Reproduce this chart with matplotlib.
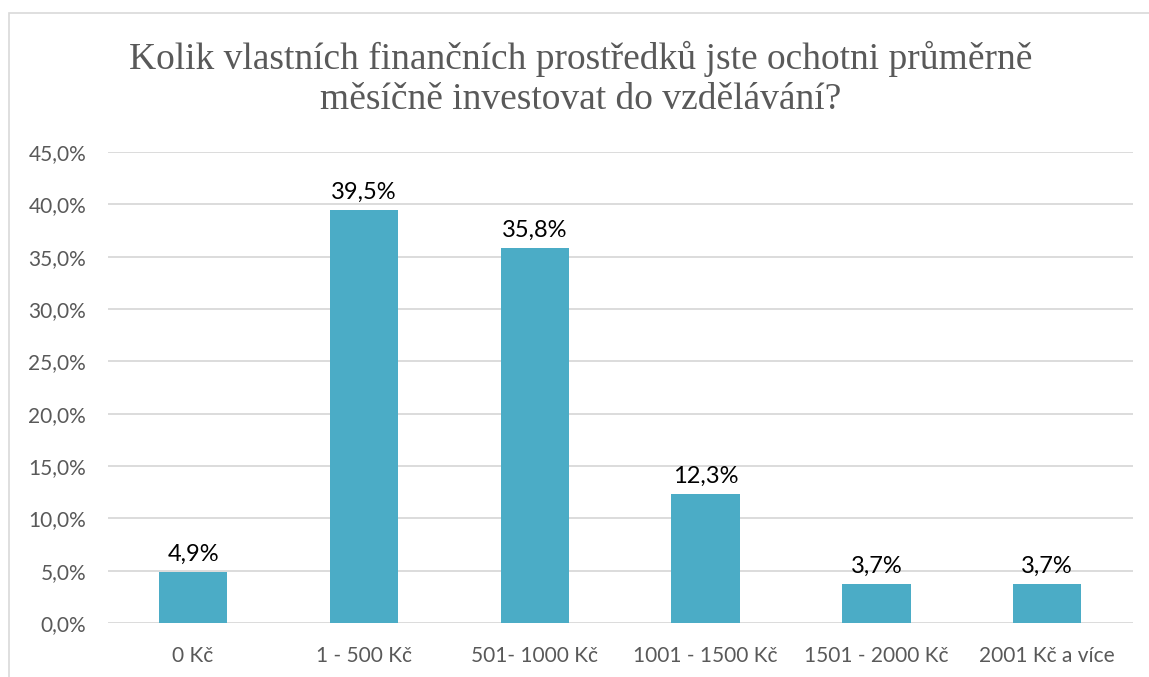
import matplotlib.pyplot as plt
from matplotlib.patches import Rectangle
from matplotlib.ticker import FuncFormatter

kategorie = ['0 Kč', '1 - 500 Kč', '501- 1000 Kč', '1001 - 1500 Kč', '1501 - 2000 Kč', '2001 Kč a více']
hodnoty = [4.9, 39.5, 35.8, 12.3, 3.7, 3.7]
titulek = 'Kolik vlastních finančních prostředků jste ochotni průměrně\nměsíčně investovat do vzdělávání?'

sedy = '#595959'
mrizka = '#D9D9D9'
barva = '#4BACC6'

plt.rcParams['font.family'] = ['Lato', 'DejaVu Sans']

fig = plt.figure(figsize=(11.49, 6.77), dpi=100)
ax = fig.add_axes([0.0937, 0.0798, 0.892, 0.6957])

# ramecek grafu (presahuje vpravo a dole)
fig.patches.append(Rectangle((8.5 / 1149, -0.1), 1.2, (677 - 12.5) / 677 + 0.1,
                             transform=fig.transFigure, fill=False,
                             edgecolor=mrizka, linewidth=1.2))

x = range(len(kategorie))
sloupce = ax.bar(x, hodnoty, width=0.4, color=barva, zorder=3)
for s, h in zip(sloupce, hodnoty):
    ax.annotate(f'{h:.1f}%'.replace('.', ','), (s.get_x() + s.get_width() / 2, h),
                xytext=(0, 5), textcoords='offset points', ha='center', va='bottom',
                fontsize=17, color='black')

ax.set_xlim(-0.5, len(kategorie) - 0.5)
ax.set_ylim(0, 45)
ax.set_yticks(range(0, 50, 5))
ax.yaxis.set_major_formatter(FuncFormatter(lambda v, p: f'{v:.1f}%'.replace('.', ',')))
ax.set_xticks(list(x))
ax.set_xticklabels(kategorie)
ax.tick_params(axis='both', length=0, labelsize=15, labelcolor=sedy)
ax.tick_params(axis='x', pad=16.5)
ax.tick_params(axis='y', pad=15.5)
ax.grid(axis='y', color=mrizka, linewidth=1.3, zorder=0)
for sp in ax.spines.values():
    sp.set_visible(False)

fig.text(581 / 1149, 1 - 41 / 677, titulek, ha='center', va='top', fontsize=27,
         family='Liberation Serif', color=sedy, linespacing=1.2)

plt.savefig('out.png', dpi=100)
